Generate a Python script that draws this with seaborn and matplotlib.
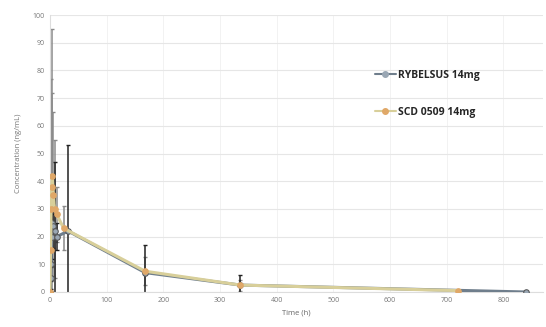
import numpy as np
import pandas as pd
import matplotlib
matplotlib.use("Agg")
import matplotlib.pyplot as plt
import seaborn as sns
from matplotlib.lines import Line2D

# (approximate)
time_ryb = [0, 1, 2, 3, 4, 6, 8, 12, 32, 168, 336, 840]
conc_ryb = [0, 5, 10, 20, 25, 24, 22, 20, 22, 7, 2.5, 0]
sd_ryb = [0, 4, 6, 8, 10, 8, 25, 5, 31, 10, 3.5, 0.5]

time_scd = [0, 1, 2, 3, 4, 6, 8, 12, 24, 168, 336, 720]
conc_scd = [0, 15, 30, 38, 42, 35, 30, 28, 23, 7.5, 2.5, 0.5]
sd_scd = [0, 20, 47, 57, 30, 30, 25, 10, 8, 5, 2, 0.3]

series_names = ["RYBELSUS 14mg", "SCD 0509 14mg"]
xticks = [0, 100, 200, 300, 400, 500, 600, 700, 800]
yticks = list(range(0, 101, 10))

df = pd.concat([
    pd.DataFrame({"time": time_ryb, "conc": conc_ryb, "sd": sd_ryb, "group": series_names[0]}),
    pd.DataFrame({"time": time_scd, "conc": conc_scd, "sd": sd_scd, "group": series_names[1]}),
])

sns.set_style("white")
plt.rcParams["font.family"] = ["Open Sans", "DejaVu Sans"]

fig = plt.figure(figsize=(5.46, 3.27), dpi=100)
ax = fig.add_axes([50 / 546, 35 / 327, 493 / 546, 277 / 327])

line_cols = {series_names[0]: "#6f7e8c", series_names[1]: "#d8cf9a"}
mark_cols = {series_names[0]: "#9aa7b4", series_names[1]: "#e0a868"}
err_cols = {series_names[0]: "#222222", series_names[1]: "#8a8a8a"}

# error bars first so the lines sit on top
for name in series_names[::-1]:
    d = df[df["group"] == name]
    ax.errorbar(d["time"], d["conc"], yerr=d["sd"], fmt="none",
                ecolor=err_cols[name], elinewidth=1.1, capsize=1.5, zorder=2)

sns.lineplot(data=df, x="time", y="conc", hue="group", palette=line_cols,
             marker="o", markersize=4, linewidth=2.2, ax=ax, legend=False,
             estimator=None, sort=False, zorder=3)

for name, line in zip(series_names, ax.get_lines()[-2:]):
    line.set_markerfacecolor(mark_cols[name])
    line.set_markeredgecolor("#555555" if name == series_names[0] else mark_cols[name])

ax.set_xlim(0, 870)
ax.set_ylim(0, 100)
ax.set_xticks(xticks)
ax.set_yticks(yticks)
ax.tick_params(labelsize=5, colors="#777777", length=0)
ax.grid(axis="y", color="#e6e6e6", linewidth=0.8)
ax.grid(axis="x", color="#f0f0f0", linewidth=0.6)
for s in ["top", "right"]:
    ax.spines[s].set_visible(False)
ax.spines["left"].set_color("#dddddd")
ax.spines["bottom"].set_color("#dddddd")

ax.set_xlabel("Time (h)", fontsize=5.5, color="#666666", labelpad=4)
ax.set_ylabel("Concentration (ng/mL)", fontsize=5.5, color="#777777", labelpad=8)

handles = [Line2D([0], [0], color=line_cols[n], marker="o", markersize=4,
                  markerfacecolor=mark_cols[n], markeredgecolor=mark_cols[n], linewidth=1.5)
           for n in series_names]
ax.legend(handles, series_names, loc="upper left", bbox_to_anchor=(0.64, 0.835),
          frameon=False, labelspacing=2.5, handlelength=2.0,
          handletextpad=0.2, prop={"weight": "bold", "size": 7.5})

fig.savefig("out.png", dpi=100)
